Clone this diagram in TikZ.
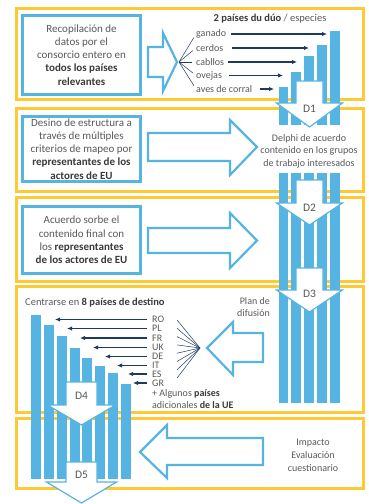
\documentclass[tikz,border=0pt]{standalone}
\usepackage{fontspec}
\setmainfont{Carlito}
\usetikzlibrary{arrows.meta}

\definecolor{panelyellow}{HTML}{FFC933}
\definecolor{barblue}{HTML}{56B4E3}
\definecolor{navy}{HTML}{1F3A5F}
\definecolor{txtgray}{HTML}{595959}
\definecolor{txtdark}{HTML}{3A3A3A}
\newcommand\boldtxt[1]{\textbf{\color{txtdark}#1}}

\begin{document}
\begin{tikzpicture}[x=1pt, y=-1pt,
    panel/.style={draw=panelyellow, line width=3pt},
    infobox/.style={draw=barblue, line width=3pt, fill=white, text=txtgray, align=center,
        inner sep=0pt, minimum width=118pt, font=\fontsize{11}{13.2}\selectfont},
    hollow/.style={draw=barblue, line width=2.2pt, fill=white, line join=miter},
    downarr/.style={draw=barblue, line width=1.2pt, fill=white, line join=miter},
    bar/.style={fill=barblue},
    lbl/.style={text=txtgray, inner sep=0pt, font=\fontsize{10}{12}\selectfont},
    dlbl/.style={text=txtgray, inner sep=0pt, font=\fontsize{11.5}{12}\selectfont},
    navyarr/.style={draw=navy, line width=1.1pt, -{Latex[length=5pt,width=4.5pt]}},
    fanline/.style={draw=navy, line width=0.5pt}]

    \useasboundingbox (0,0) rectangle (369,504);

    \draw[panel] (16,8) rectangle (363,99);
    \draw[panel] (16,108) rectangle (363,191);
    \draw[panel] (16,197) rectangle (363,281);
    \draw[panel] (16,286) rectangle (363,412);
    \draw[panel] (16,418) rectangle (363,488);

    \node[infobox, minimum height=79pt] at (81.5,55) (collect) {Recopilación de\\datos por el\\consorcio entero en\\\boldtxt{todos los países}\\\boldtxt{relevantes}};
    \node[infobox, minimum height=65pt] at (81.5,149) (design) {Desino de estructura a\\través de múltiples\\criterios de mapeo por\\\boldtxt{representantes de los}\\\boldtxt{actores de EU}};
    \node[infobox, minimum height=67pt] at (81.5,240) (agree) {Acuerdo sorbe el\\contenido final con\\los \boldtxt{representantes}\\\boldtxt{de los actores de EU}};

    \draw[hollow] (148,47) -- (163,47) -- (163,33) -- (177,62) -- (163,91) -- (163,77) -- (148,77) -- cycle;
    \draw[hollow] (148,133) -- (230,133) -- (230,120) -- (257,147) -- (230,175) -- (230,161) -- (148,161) -- cycle;
    \draw[hollow] (148,228) -- (230,228) -- (230,213) -- (257,240.5) -- (230,268) -- (230,253) -- (148,253) -- cycle;
    \draw[hollow] (263,333) -- (233,333) -- (233,322) -- (207,348) -- (233,375) -- (233,362) -- (263,362) -- cycle;
    \draw[hollow] (263,438) -- (167,438) -- (167,425) -- (140,452) -- (167,478) -- (167,465) -- (263,465) -- cycle;

    \foreach \i/\top in {0/87,1/72,2/56,3/45,4/31} {
        \fill[bar] ({278.5+12.9*\i},\top) rectangle ({288.3+12.9*\i},125);
        \fill[bar] ({278.5+12.9*\i},173) rectangle ({288.3+12.9*\i},403);
    }
    \foreach \i/\top in {0/315,1/325,2/336,3/348,4/358,5/366,6/373,7/384}
        \fill[bar] ({31+12.85*\i},\top) rectangle ({41+12.85*\i},479);

    \foreach \nm/\cx/\sw/\ww/\st/\ht/\tp/\ly in {D1/309.5/13.5/33/81/103/127/112, D2/309.5/13.5/33/180/203/225/211, D3/309.5/13.5/33/268/290/312/298, D4/81.5/15.5/34/382/405/425/399, D5/81.5/15.5/35/462/482/503/479} {
        \draw[downarr] ({\cx-\sw},\st) -- ({\cx+\sw},\st) -- ({\cx+\sw},\ht) -- ({\cx+\ww},\ht) -- (\cx,\tp) -- ({\cx-\ww},\ht) -- ({\cx-\sw},\ht) -- cycle;
        \node[dlbl] at (\cx,\ly) (\nm) {\nm};
    }

    \node[lbl, font=\fontsize{10.5}{12}\selectfont] at (270,19) (duo) {\boldtxt{2 países du dúo} / especies};
    \coordinate (hub1) at (179,62);
    \foreach \i/\txt/\yy/\sh/\tp in {1/ganado/34/5/327, 2/cerdos/48/9/309, 3/cabllos/62/4/297, 4/ovejas/75.5/7/283, 5/aves de corral/89/8/274} {
        \node[lbl, anchor=west] at (196,\yy) (sp\i) {\txt};
        \coordinate (tip\i) at (\tp,\yy);
        \draw[navyarr] ([xshift=\sh pt]sp\i.east) -- (tip\i);
        \draw[fanline, shorten >=4pt] (hub1) -- (sp\i.west);
    }

    \node[lbl, align=center, font=\fontsize{10}{12.5}\selectfont] at (309,151) (delphi) {Delphi de acuerdo\\contenido en los grupos\\de trabajo interesados};

    \node[lbl, anchor=west, font=\fontsize{10.5}{12}\selectfont] at (25,303) (focus) {Centrarse en \boldtxt{8 países de destino}};
    \coordinate (hub2) at (200,348);
    \foreach \i/\cc/\yy/\tp in {1/RO/319.5/55, 2/PL/328.5/67, 3/FR/338/80, 4/UK/347.5/93, 5/DE/356.5/105, 6/IT/365.5/117, 7/ES/374/128, 8/GR/383/133} {
        \node[lbl] at (152,\yy) [anchor=west] (\cc) {\cc};
        \coordinate (cc\i) at (\tp,\yy);
        \draw[navyarr] ([xshift=-5pt]\cc.west) -- (cc\i);
        \coordinate (f\i) at (177,{320+8.3*(\i-1)});
        \draw[fanline] (hub2) -- (f\i);
    }
    \node[lbl, anchor=west, align=left] at (152,399) (extra) {+ Algunos \boldtxt{países}\\adicionales \boldtxt{de la UE}};
    \node[lbl, anchor=east, align=right] at (270,307.5) (plan) {Plan de\\difusión};

    \node[lbl, align=center, font=\fontsize{10}{13}\selectfont] at (313,455) (impact) {Impacto\\Evaluación\\cuestionario};

\end{tikzpicture}
\end{document}
